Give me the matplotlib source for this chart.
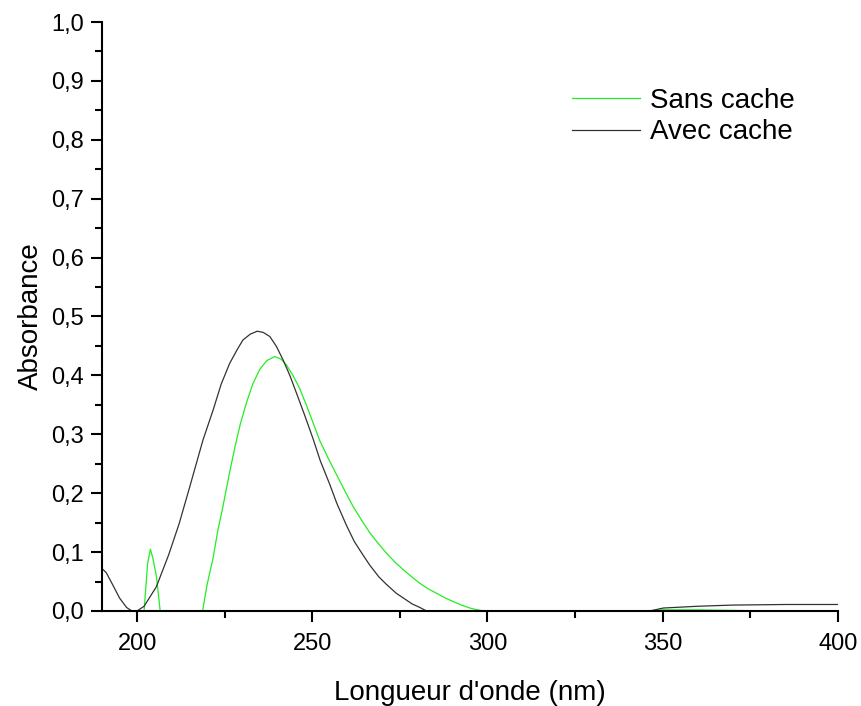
import numpy as np
import matplotlib.pyplot as plt
from matplotlib.ticker import MultipleLocator, FuncFormatter

plt.rcParams['font.family'] = ['Liberation Sans', 'DejaVu Sans']

# Sans cache (green)
wl_sans = [202, 203, 203.8, 204.5, 205.5, 206.6, 210, 215, 218.7, 220, 221.7, 223, 224.5, 226.4, 228, 229.5,
           231.2, 233, 235, 237, 239.3, 241, 242.6, 244.5, 246.4, 248.3, 250.2, 252.1, 254.5, 256.9, 259.3,
           261.7, 264, 266.4, 268.8, 271.2, 273.6, 276, 278.4, 280.7, 283, 285.5, 288, 290.2, 292.6, 295,
           297, 299.3, 320, 345, 350, 360, 370, 380, 400]
abs_sans = [0.0, 0.08, 0.105, 0.09, 0.06, 0.0, 0.0, 0.0, 0.0, 0.045, 0.09, 0.135, 0.177, 0.235, 0.28, 0.318,
            0.353, 0.385, 0.41, 0.425, 0.432, 0.428, 0.418, 0.4, 0.378, 0.35, 0.32, 0.29, 0.26, 0.232, 0.204,
            0.177, 0.155, 0.133, 0.115, 0.098, 0.083, 0.07, 0.058, 0.047, 0.038, 0.03, 0.022, 0.016, 0.01, 0.005,
            0.002, 0.0, 0.0, 0.0, 0.002, 0.002, 0.001, 0.0, 0.0]

# Avec cache (black)
wl_avec = [190, 191.2, 193, 195, 197, 198.5, 200, 202, 205.5, 209, 212, 215, 218.8, 221.7, 224, 226.4, 228.5,
           230.2, 232.3, 234.3, 236, 237.9, 239.8, 241.7, 243.6, 245.5, 247.8, 250.2, 252.3, 255, 257, 259.8,
           262, 264.5, 266.4, 269, 271.2, 274, 276, 278.5, 280.7, 282.6, 300, 330, 346.4, 350.2, 360, 370, 385, 400]
abs_avec = [0.072, 0.065, 0.045, 0.022, 0.006, 0.0, 0.0, 0.008, 0.041, 0.095, 0.148, 0.21, 0.29, 0.341, 0.385,
            0.42, 0.443, 0.46, 0.47, 0.475, 0.473, 0.466, 0.449, 0.426, 0.4, 0.37, 0.333, 0.293, 0.255, 0.215,
            0.183, 0.145, 0.118, 0.095, 0.078, 0.058, 0.045, 0.03, 0.022, 0.012, 0.006, 0.0, 0.0, 0.0, 0.0,
            0.005, 0.008, 0.010, 0.011, 0.011]

fig = plt.figure(figsize=(8.61, 7.06), dpi=100)
ax = fig.add_axes([0.1185, 0.1346, 0.8545, 0.8342])

ax.plot(wl_sans, abs_sans, color='#22ee22', lw=0.9, label='Sans cache', zorder=2)
ax.plot(wl_avec, abs_avec, color='#333333', lw=0.9, label='Avec cache', zorder=2)

ax.set_xlim(190, 400)
ax.set_ylim(0, 1.0)
ax.spines['top'].set_visible(False)
ax.spines['right'].set_visible(False)
for s in ['left', 'bottom']:
    ax.spines[s].set_linewidth(1.5)
    ax.spines[s].set_zorder(3)

ax.xaxis.set_major_locator(MultipleLocator(50))
ax.xaxis.set_minor_locator(MultipleLocator(25))
ax.yaxis.set_major_locator(MultipleLocator(0.1))
ax.yaxis.set_minor_locator(MultipleLocator(0.05))
ax.yaxis.set_major_formatter(FuncFormatter(lambda v, p: f"{v:.1f}".replace('.', ',')))
ax.tick_params(which='major', direction='out', length=8, width=1.5, labelsize=17)
ax.tick_params(which='minor', direction='out', length=5, width=1.5)
ax.tick_params(axis='x', pad=8)
ax.tick_params(axis='y', pad=5)

ax.set_xlabel("Longueur d'onde (nm)", fontsize=20, labelpad=18)
ax.set_ylabel("Absorbance", fontsize=20, labelpad=5)

ax.legend(loc='upper left', bbox_to_anchor=(0.62, 0.912), frameon=False, fontsize=20, borderpad=0,
          handlelength=2.45, handletextpad=0.36, labelspacing=0.2)

fig.savefig('out.png', dpi=100)
